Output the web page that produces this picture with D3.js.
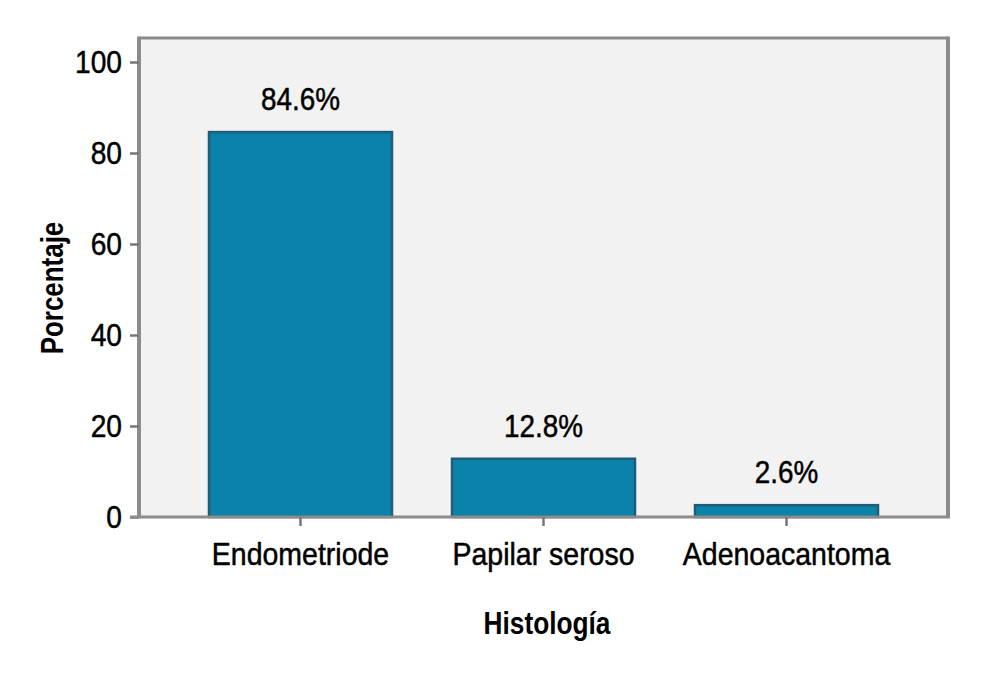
<!DOCTYPE html>
<html><head><meta charset="utf-8">
<script src="https://cdn.jsdelivr.net/npm/d3@7"></script>
<style>
html,body{margin:0;padding:0;background:#fff;}
svg text{font-family:"Liberation Sans","Arial",sans-serif;fill:#000;}
</style></head>
<body>
<svg id="chart" width="1000" height="675"></svg>
<script>
const categories = ["Endometriode", "Papilar seroso", "Adenoacantoma"];
const values = [84.6, 12.8, 2.6];
const valueLabels = ["84.6%", "12.8%", "2.6%"];
const yTicks = [0, 20, 40, 60, 80, 100];
const xTitle = "Histología";
const yTitle = "Porcentaje";

const svg = d3.select("#chart");
const plot = {left: 139, right: 948, top: 38, bottom: 517};
const FS = 32;

// condense text horizontally to mimic a condensed typeface
function condense(sel, factor) {
  sel.each(function() {
    const w = this.getComputedTextLength();
    d3.select(this).attr("textLength", w * factor).attr("lengthAdjust", "spacingAndGlyphs");
  });
}

const x = d3.scaleBand().domain(categories).range([plot.left, plot.right]).paddingInner(0.247).paddingOuter(0.288);
const y = d3.scaleLinear().domain([0, 100]).range([plot.bottom, 62]);

svg.append("rect").attr("x", plot.left).attr("y", plot.top)
  .attr("width", plot.right - plot.left).attr("height", plot.bottom - plot.top)
  .attr("fill", "#f2f2f2");

svg.selectAll("rect.bar").data(categories).enter().append("rect")
  .attr("class", "bar")
  .attr("x", d => x(d))
  .attr("y", (d, i) => y(values[i]))
  .attr("width", x.bandwidth())
  .attr("height", (d, i) => y(0) - y(values[i]))
  .attr("fill", "#0b82aa")
  .attr("stroke", "#1e5d7a")
  .attr("stroke-width", 2.5);

const vals = svg.selectAll("text.val").data(categories).enter().append("text")
  .attr("class", "val")
  .attr("x", d => x(d) + x.bandwidth() / 2)
  .attr("y", (d, i) => y(values[i]) - 22)
  .attr("text-anchor", "middle")
  .attr("font-size", FS)
  .attr("stroke", "#000").attr("stroke-width", 0.5)
  .text((d, i) => valueLabels[i]);
condense(vals, 0.87);

svg.append("line").attr("x1", plot.left).attr("x2", plot.right).attr("y1", plot.top).attr("y2", plot.top)
  .attr("stroke", "#8c8c8c").attr("stroke-width", 3);
svg.append("line").attr("x1", plot.right).attr("x2", plot.right).attr("y1", plot.top - 1.5).attr("y2", plot.bottom)
  .attr("stroke", "#8c8c8c").attr("stroke-width", 4);

const yAxis = svg.append("g").attr("transform", `translate(${plot.left},0)`)
  .call(d3.axisLeft(y).tickValues(yTicks).tickSize(9).tickPadding(8));
yAxis.select(".domain").attr("d", `M0,${plot.top - 1.5}V${plot.bottom}`).attr("stroke", "#8c8c8c").attr("stroke-width", 4);
yAxis.selectAll(".tick line").attr("stroke", "#777").attr("stroke-width", 2.5);
const yt = yAxis.selectAll(".tick text").attr("font-size", FS).attr("font-family", null).attr("fill", "#000")
  .attr("stroke", "#000").attr("stroke-width", 0.5);
condense(yt, 0.88);

const xAxis = svg.append("g").attr("transform", `translate(0,${plot.bottom})`)
  .call(d3.axisBottom(x).tickSize(9).tickPadding(16));
xAxis.select(".domain").attr("d", `M${plot.left - 9},0H${plot.right + 2}`).attr("stroke", "#8c8c8c").attr("stroke-width", 3);
xAxis.selectAll(".tick line").attr("stroke", "#777").attr("stroke-width", 2.5);
const xt = xAxis.selectAll(".tick text").attr("font-size", FS).attr("font-family", null).attr("fill", "#000")
  .attr("stroke", "#000").attr("stroke-width", 0.5);
condense(xt, 0.89);

const xT = svg.append("text").attr("x", 547).attr("y", 634).attr("text-anchor", "middle")
  .attr("font-size", FS).attr("font-weight", "bold").text(xTitle);
condense(xT, 0.82);
const yT = svg.append("text").attr("transform", "translate(63,288) rotate(-90)").attr("text-anchor", "middle")
  .attr("font-size", FS).attr("font-weight", "bold").text(yTitle);
condense(yT, 0.81);
</script>
</body></html>
